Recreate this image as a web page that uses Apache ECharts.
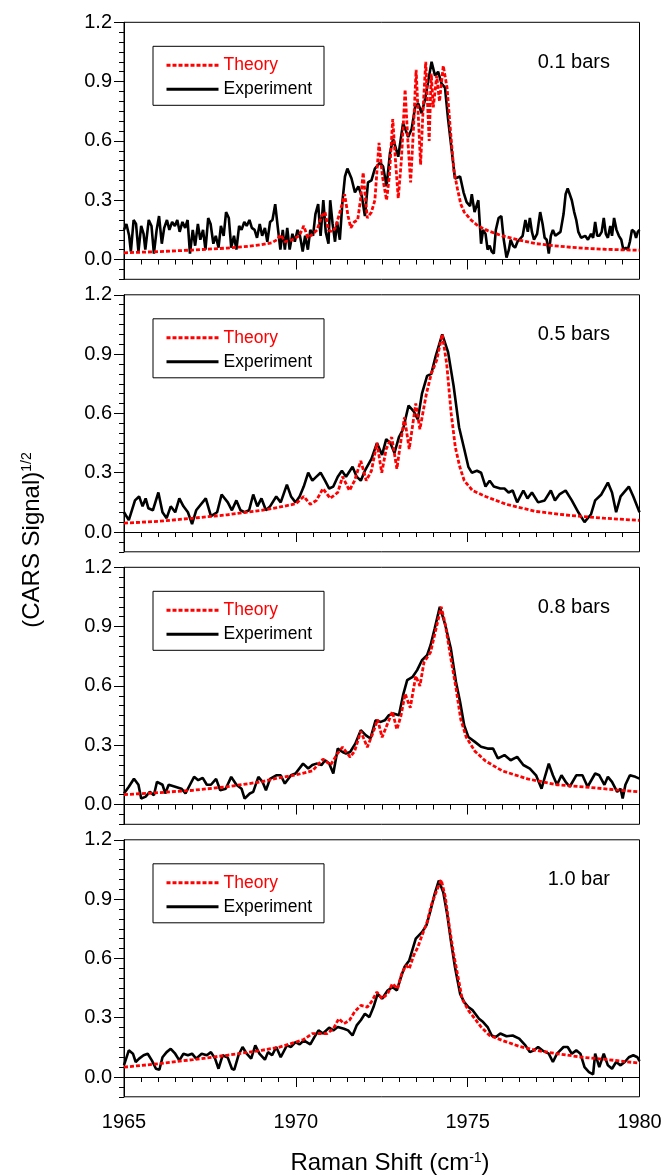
<!DOCTYPE html>
<html>
<head>
<meta charset="utf-8">
<title>CARS spectra</title>
<script src="https://cdn.jsdelivr.net/npm/echarts@6/dist/echarts.min.js"></script>
<style>
  html, body { margin: 0; padding: 0; background: #fff; }
  #main { width: 663px; height: 1176px; }
</style>
</head>
<body>
<div id="main"></div>
<script>
// panel labels, tick labels
const pressureLabels = ['0.1 bars', '0.5 bars', '0.8 bars', '1.0 bar'];
const yTickValues = [0, 0.3, 0.6, 0.9, 1.2];
const legendNames = ['Theory', 'Experiment'];

// [Raman shift (cm-1), (CARS signal)^1/2]
const theory01 = [[1965,0.034],[1966,0.04],[1967,0.048],[1968,0.058],[1968.5,0.065],[1969,0.075],[1969.3,0.085],[1969.45,0.1],[1969.56,0.126],[1969.68,0.09],[1969.9,0.1],[1970,0.11],[1970.1,0.12],[1970.23,0.17],[1970.35,0.11],[1970.5,0.13],[1970.62,0.15],[1970.75,0.22],[1970.85,0.24],[1970.95,0.15],[1971.05,0.14],[1971.15,0.16],[1971.3,0.25],[1971.42,0.33],[1971.52,0.22],[1971.6,0.16],[1971.7,0.19],[1971.8,0.2],[1971.88,0.3],[1971.96,0.44],[1972.03,0.3],[1972.08,0.21],[1972.2,0.24],[1972.3,0.3],[1972.42,0.59],[1972.52,0.42],[1972.64,0.3],[1972.72,0.42],[1972.82,0.71],[1972.9,0.5],[1972.98,0.31],[1973.07,0.5],[1973.18,0.86],[1973.26,0.6],[1973.34,0.39],[1973.42,0.65],[1973.5,0.96],[1973.57,0.7],[1973.63,0.48],[1973.7,0.75],[1973.78,1.0],[1973.83,0.8],[1973.88,0.6],[1973.94,0.94],[1974.0,0.77],[1974.1,0.93],[1974.18,0.8],[1974.29,0.98],[1974.4,0.87],[1974.5,0.65],[1974.6,0.45],[1974.7,0.36],[1974.8,0.28],[1974.9,0.24],[1975.1,0.2],[1975.3,0.17],[1975.6,0.145],[1976,0.12],[1976.5,0.098],[1977,0.08],[1977.5,0.07],[1978,0.062],[1978.5,0.056],[1979,0.052],[1979.5,0.049],[1980,0.047]];
const experiment01 = [[1965,0.15],[1965.07,0.18],[1965.15,0.12],[1965.2,0.04],[1965.28,0.2],[1965.35,0.18],[1965.42,0.04],[1965.5,0.17],[1965.57,0.13],[1965.62,0.05],[1965.72,0.2],[1965.8,0.17],[1965.87,0.03],[1965.95,0.15],[1966.02,0.22],[1966.1,0.08],[1966.17,0.16],[1966.25,0.2],[1966.32,0.15],[1966.4,0.19],[1966.48,0.17],[1966.55,0.2],[1966.62,0.14],[1966.7,0.19],[1966.78,0.16],[1966.85,0.2],[1966.92,0.03],[1967,0.15],[1967.07,0.07],[1967.15,0.18],[1967.22,0.1],[1967.3,0.15],[1967.37,0.05],[1967.45,0.21],[1967.52,0.18],[1967.6,0.08],[1967.67,0.12],[1967.75,0.06],[1967.82,0.17],[1967.9,0.12],[1967.97,0.24],[1968.05,0.21],[1968.12,0.06],[1968.2,0.12],[1968.27,0.05],[1968.35,0.17],[1968.42,0.15],[1968.5,0.19],[1968.57,0.17],[1968.65,0.2],[1968.72,0.16],[1968.8,0.15],[1968.87,0.11],[1968.95,0.18],[1969.02,0.12],[1969.1,0.16],[1969.17,0.09],[1969.25,0.19],[1969.32,0.2],[1969.4,0.28],[1969.47,0.17],[1969.55,0.05],[1969.62,0.15],[1969.68,0.05],[1969.75,0.16],[1969.82,0.05],[1969.9,0.13],[1969.97,0.09],[1970.05,0.15],[1970.12,0.12],[1970.2,0.04],[1970.27,0.12],[1970.35,0.05],[1970.42,0.15],[1970.5,0.12],[1970.57,0.23],[1970.65,0.28],[1970.72,0.12],[1970.8,0.3],[1970.87,0.14],[1970.95,0.08],[1971,0.3],[1971.07,0.18],[1971.14,0.09],[1971.2,0.19],[1971.28,0.1],[1971.36,0.3],[1971.43,0.42],[1971.5,0.46],[1971.62,0.41],[1971.72,0.34],[1971.82,0.37],[1971.92,0.32],[1972.01,0.22],[1972.1,0.39],[1972.2,0.4],[1972.3,0.46],[1972.45,0.49],[1972.54,0.47],[1972.64,0.37],[1972.74,0.54],[1972.83,0.61],[1972.98,0.52],[1973.12,0.69],[1973.27,0.62],[1973.37,0.66],[1973.47,0.77],[1973.56,0.79],[1973.66,0.74],[1973.76,0.81],[1973.85,0.9],[1973.95,1.0],[1974.05,0.93],[1974.14,0.95],[1974.24,0.89],[1974.34,0.87],[1974.43,0.71],[1974.53,0.56],[1974.63,0.41],[1974.78,0.42],[1974.88,0.34],[1974.97,0.29],[1975.07,0.27],[1975.12,0.33],[1975.2,0.24],[1975.31,0.3],[1975.39,0.08],[1975.45,0.15],[1975.52,0.13],[1975.58,0.05],[1975.64,0.07],[1975.7,0.04],[1975.76,0.03],[1975.82,0.15],[1975.9,0.21],[1975.98,0.22],[1976.05,0.1],[1976.13,0.01],[1976.2,0.05],[1976.25,0.1],[1976.32,0.07],[1976.38,0.06],[1976.45,0.09],[1976.5,0.08],[1976.6,0.12],[1976.68,0.2],[1976.75,0.14],[1976.81,0.21],[1976.87,0.14],[1976.93,0.1],[1977.02,0.13],[1977.11,0.24],[1977.18,0.18],[1977.24,0.11],[1977.3,0.1],[1977.36,0.03],[1977.42,0.12],[1977.48,0.15],[1977.55,0.12],[1977.6,0.11],[1977.7,0.14],[1977.79,0.23],[1977.85,0.33],[1977.91,0.36],[1977.97,0.33],[1978.03,0.3],[1978.1,0.24],[1978.16,0.2],[1978.22,0.14],[1978.3,0.11],[1978.34,0.1],[1978.42,0.12],[1978.5,0.1],[1978.59,0.13],[1978.65,0.11],[1978.71,0.19],[1978.77,0.12],[1978.83,0.12],[1978.9,0.14],[1978.96,0.21],[1979.02,0.13],[1979.08,0.11],[1979.15,0.17],[1979.2,0.12],[1979.26,0.21],[1979.33,0.15],[1979.4,0.12],[1979.47,0.1],[1979.53,0.05],[1979.6,0.06],[1979.66,0.05],[1979.72,0.09],[1979.78,0.15],[1979.85,0.14],[1979.9,0.11],[1979.95,0.14],[1980,0.15]];

const theory05 = [[1965,0.045],[1966,0.054],[1967,0.07],[1968,0.087],[1969,0.11],[1969.5,0.125],[1970,0.143],[1970.23,0.18],[1970.42,0.14],[1970.6,0.16],[1970.79,0.22],[1971,0.17],[1971.22,0.2],[1971.36,0.28],[1971.56,0.21],[1971.71,0.26],[1971.89,0.36],[1972.05,0.26],[1972.2,0.31],[1972.36,0.45],[1972.5,0.3],[1972.63,0.42],[1972.79,0.48],[1972.94,0.32],[1973.03,0.43],[1973.16,0.58],[1973.3,0.42],[1973.49,0.65],[1973.61,0.52],[1973.8,0.7],[1973.94,0.8],[1974.1,0.87],[1974.26,1.0],[1974.39,0.85],[1974.52,0.6],[1974.64,0.43],[1974.77,0.33],[1974.9,0.26],[1975.14,0.21],[1975.52,0.18],[1976.13,0.14],[1976.99,0.104],[1977.97,0.084],[1978.96,0.07],[1980,0.059]];
const experiment05 = [[1965,0.1],[1965.14,0.06],[1965.32,0.16],[1965.44,0.18],[1965.54,0.13],[1965.63,0.17],[1965.71,0.12],[1965.84,0.11],[1966,0.2],[1966.12,0.1],[1966.24,0.07],[1966.36,0.13],[1966.49,0.1],[1966.61,0.17],[1966.73,0.13],[1966.86,0.1],[1966.98,0.04],[1967.1,0.11],[1967.38,0.17],[1967.53,0.08],[1967.71,0.1],[1967.84,0.19],[1968.02,0.15],[1968.14,0.11],[1968.27,0.16],[1968.39,0.11],[1968.51,0.1],[1968.64,0.11],[1968.76,0.19],[1968.88,0.13],[1969,0.17],[1969.13,0.11],[1969.25,0.13],[1969.43,0.18],[1969.56,0.15],[1969.74,0.24],[1969.86,0.18],[1969.99,0.15],[1970.11,0.18],[1970.23,0.23],[1970.36,0.3],[1970.48,0.26],[1970.6,0.28],[1970.72,0.3],[1970.85,0.26],[1970.97,0.22],[1971.09,0.23],[1971.22,0.28],[1971.34,0.31],[1971.46,0.28],[1971.65,0.33],[1971.77,0.28],[1971.89,0.26],[1972.01,0.31],[1972.2,0.37],[1972.36,0.45],[1972.51,0.39],[1972.63,0.47],[1972.75,0.45],[1972.87,0.4],[1973,0.48],[1973.12,0.52],[1973.28,0.64],[1973.43,0.61],[1973.55,0.57],[1973.67,0.7],[1973.82,0.79],[1973.94,0.8],[1974.07,0.89],[1974.26,1.0],[1974.43,0.91],[1974.59,0.74],[1974.75,0.53],[1974.9,0.42],[1975.02,0.33],[1975.12,0.3],[1975.27,0.31],[1975.39,0.3],[1975.52,0.23],[1975.64,0.26],[1975.76,0.23],[1975.95,0.22],[1976.07,0.22],[1976.19,0.2],[1976.31,0.21],[1976.44,0.15],[1976.62,0.21],[1976.74,0.17],[1976.87,0.2],[1977.05,0.15],[1977.24,0.16],[1977.42,0.21],[1977.54,0.16],[1977.67,0.19],[1977.85,0.21],[1978.03,0.16],[1978.22,0.1],[1978.4,0.05],[1978.59,0.09],[1978.71,0.16],[1978.89,0.19],[1979.08,0.25],[1979.2,0.2],[1979.32,0.1],[1979.45,0.18],[1979.69,0.23],[1979.82,0.18],[1980,0.1]];

const theory08 = [[1965,0.05],[1966,0.06],[1967,0.072],[1968,0.09],[1969,0.115],[1969.5,0.135],[1970,0.15],[1970.48,0.17],[1970.79,0.23],[1971.01,0.2],[1971.22,0.26],[1971.36,0.29],[1971.58,0.24],[1971.71,0.27],[1971.89,0.37],[1972.08,0.29],[1972.26,0.37],[1972.38,0.43],[1972.51,0.34],[1972.67,0.41],[1972.81,0.47],[1972.94,0.38],[1973.06,0.45],[1973.18,0.56],[1973.33,0.49],[1973.49,0.65],[1973.61,0.6],[1973.73,0.72],[1973.92,0.77],[1974.04,0.86],[1974.23,1.0],[1974.35,0.91],[1974.51,0.74],[1974.66,0.59],[1974.8,0.43],[1974.96,0.34],[1975.21,0.27],[1975.52,0.22],[1976.01,0.17],[1976.74,0.13],[1977.6,0.1],[1978.59,0.086],[1979.32,0.074],[1980,0.064]];
const experiment08 = [[1965,0.056],[1965.14,0.09],[1965.29,0.13],[1965.42,0.1],[1965.5,0.03],[1965.63,0.04],[1965.75,0.064],[1965.87,0.047],[1965.96,0.115],[1966.12,0.1],[1966.2,0.056],[1966.3,0.1],[1966.49,0.09],[1966.67,0.08],[1966.79,0.056],[1966.92,0.1],[1967.04,0.14],[1967.16,0.123],[1967.29,0.135],[1967.41,0.1],[1967.53,0.1],[1967.68,0.13],[1967.8,0.072],[1967.96,0.08],[1968.12,0.14],[1968.27,0.1],[1968.42,0.08],[1968.51,0.03],[1968.66,0.056],[1968.76,0.064],[1968.91,0.14],[1969.03,0.115],[1969.13,0.072],[1969.25,0.13],[1969.43,0.148],[1969.56,0.148],[1969.68,0.106],[1969.86,0.148],[1969.99,0.157],[1970.21,0.207],[1970.36,0.182],[1970.48,0.2],[1970.6,0.207],[1970.75,0.2],[1970.85,0.224],[1970.97,0.207],[1971.09,0.157],[1971.22,0.283],[1971.36,0.266],[1971.46,0.258],[1971.58,0.266],[1971.73,0.308],[1971.89,0.376],[1972.04,0.35],[1972.17,0.334],[1972.32,0.426],[1972.47,0.418],[1972.59,0.426],[1972.71,0.452],[1972.84,0.46],[1973,0.452],[1973.12,0.553],[1973.24,0.629],[1973.4,0.646],[1973.53,0.68],[1973.67,0.73],[1973.82,0.755],[1973.92,0.806],[1974.04,0.89],[1974.19,1.0],[1974.35,0.907],[1974.51,0.789],[1974.66,0.62],[1974.78,0.519],[1974.9,0.4],[1975.02,0.342],[1975.21,0.317],[1975.39,0.292],[1975.58,0.283],[1975.74,0.283],[1975.88,0.233],[1976.07,0.25],[1976.25,0.224],[1976.44,0.241],[1976.62,0.2],[1976.81,0.182],[1976.99,0.148],[1977.15,0.08],[1977.26,0.148],[1977.36,0.207],[1977.48,0.148],[1977.6,0.1],[1977.73,0.148],[1977.85,0.115],[1977.97,0.09],[1978.16,0.148],[1978.34,0.148],[1978.49,0.09],[1978.71,0.157],[1978.83,0.148],[1978.98,0.1],[1979.08,0.14],[1979.2,0.115],[1979.35,0.064],[1979.45,0.08],[1979.51,0.03],[1979.59,0.1],[1979.72,0.148],[1979.88,0.14],[1980,0.131]];

const theory10 = [[1965,0.05],[1966,0.067],[1967,0.088],[1968,0.11],[1969,0.135],[1969.5,0.15],[1970,0.177],[1970.23,0.19],[1970.48,0.22],[1970.72,0.22],[1970.91,0.22],[1971.09,0.244],[1971.25,0.295],[1971.4,0.27],[1971.56,0.287],[1971.71,0.33],[1971.89,0.362],[1972.08,0.354],[1972.2,0.38],[1972.36,0.43],[1972.51,0.396],[1972.67,0.421],[1972.81,0.472],[1972.96,0.447],[1973.08,0.522],[1973.21,0.565],[1973.3,0.548],[1973.43,0.615],[1973.55,0.657],[1973.67,0.716],[1973.82,0.784],[1973.94,0.868],[1974.1,0.944],[1974.23,0.998],[1974.35,0.91],[1974.47,0.758],[1974.59,0.624],[1974.72,0.506],[1974.84,0.396],[1975.02,0.337],[1975.21,0.295],[1975.39,0.253],[1975.64,0.21],[1976.01,0.185],[1976.5,0.155],[1976.99,0.135],[1977.6,0.118],[1978.34,0.1],[1979.08,0.088],[1980,0.07]];
const experiment10 = [[1965,0.06],[1965.14,0.135],[1965.26,0.118],[1965.34,0.076],[1965.44,0.093],[1965.57,0.11],[1965.69,0.118],[1965.81,0.084],[1965.93,0.042],[1966.03,0.037],[1966.12,0.1],[1966.24,0.126],[1966.36,0.143],[1966.49,0.118],[1966.61,0.084],[1966.73,0.118],[1966.86,0.11],[1966.98,0.118],[1967.1,0.093],[1967.26,0.118],[1967.41,0.11],[1967.53,0.126],[1967.65,0.093],[1967.75,0.042],[1967.87,0.11],[1968.02,0.098],[1968.14,0.042],[1968.21,0.037],[1968.33,0.11],[1968.45,0.152],[1968.57,0.118],[1968.7,0.093],[1968.82,0.16],[1968.94,0.118],[1969.1,0.088],[1969.19,0.126],[1969.31,0.11],[1969.43,0.152],[1969.56,0.1],[1969.74,0.16],[1969.86,0.152],[1969.99,0.177],[1970.11,0.165],[1970.23,0.185],[1970.42,0.165],[1970.54,0.202],[1970.66,0.236],[1970.79,0.22],[1970.97,0.25],[1971.09,0.236],[1971.22,0.253],[1971.4,0.244],[1971.52,0.236],[1971.65,0.21],[1971.77,0.261],[1971.89,0.287],[1972.01,0.32],[1972.14,0.303],[1972.26,0.354],[1972.38,0.421],[1972.51,0.396],[1972.67,0.438],[1972.81,0.455],[1972.94,0.438],[1973.06,0.506],[1973.16,0.556],[1973.3,0.59],[1973.49,0.7],[1973.67,0.733],[1973.8,0.767],[1973.92,0.843],[1974.04,0.927],[1974.16,0.994],[1974.29,0.935],[1974.41,0.817],[1974.51,0.691],[1974.63,0.556],[1974.78,0.421],[1974.9,0.379],[1975.02,0.354],[1975.15,0.337],[1975.33,0.295],[1975.45,0.278],[1975.58,0.253],[1975.7,0.21],[1975.82,0.202],[1975.95,0.22],[1976.13,0.206],[1976.31,0.21],[1976.5,0.194],[1976.68,0.16],[1976.81,0.126],[1976.93,0.135],[1977.05,0.152],[1977.17,0.135],[1977.36,0.118],[1977.48,0.076],[1977.6,0.118],[1977.79,0.152],[1977.91,0.152],[1978.03,0.118],[1978.16,0.135],[1978.28,0.118],[1978.4,0.05],[1978.53,0.025],[1978.65,0.013],[1978.71,0.118],[1978.83,0.05],[1978.96,0.118],[1979.08,0.059],[1979.2,0.042],[1979.32,0.076],[1979.45,0.059],[1979.57,0.076],[1979.69,0.1],[1979.82,0.11],[1979.94,0.1],[1980,0.08]];

const theorySets = [theory01, theory05, theory08, theory10];
const experimentSets = [experiment01, experiment05, experiment08, experiment10];

const FONT = 'Liberation Sans, Arial, sans-serif';
const panelTop = 22.3;
const panelStep = 272.5;
const panelHeight = 257;

const grids = [], xAxes = [], yAxes = [], series = [], legends = [], titles = [];

pressureLabels.forEach((label, i) => {
    const top = panelTop + i * panelStep;
    const last = i === pressureLabels.length - 1;
    grids.push({
        left: 124, right: 23.5, top: top, height: panelHeight,
        outerBoundsMode: 'none',
        show: true, borderColor: '#000', borderWidth: 1, backgroundColor: 'transparent'
    });
    xAxes.push({
        type: 'value', gridIndex: i, min: 1965, max: 1980, interval: 5,
        axisLine: { lineStyle: { color: '#000', width: 1 } },
        axisTick: { length: 10, lineStyle: { color: '#000' } },
        minorTick: { show: true, splitNumber: 10, length: 5, lineStyle: { color: '#000' } },
        splitLine: { show: false },
        axisLabel: {
            show: last, color: '#000', fontSize: 20, fontFamily: FONT, margin: 16,
            formatter: v => String(v)
        }
    });
    // minor ticks every 0.05
    yAxes.push({
        type: 'value', gridIndex: i, min: -0.1, max: 1.2, interval: 0.05,
        axisLine: { show: true, lineStyle: { color: '#000', width: 1 } },
        axisTick: { length: 5, lineStyle: { color: '#000' } },
        splitLine: { show: false },
        axisLabel: { show: false }
    });
    // major ticks + labels
    yAxes.push({
        type: 'value', gridIndex: i, min: -0.1, max: 1.2, position: 'left',
        axisLine: { show: false },
        axisTick: { show: true, length: 10, customValues: yTickValues, lineStyle: { color: '#000' } },
        splitLine: { show: false },
        axisLabel: {
            show: true, customValues: yTickValues, color: '#000', fontSize: 20,
            fontFamily: FONT, margin: 12, formatter: v => v.toFixed(1)
        }
    });
    series.push({
        name: 'Experiment', type: 'line', xAxisIndex: i, yAxisIndex: i * 2,
        data: experimentSets[i], symbol: 'none', animation: false,
        lineStyle: { color: '#000', width: 2.6 }, itemStyle: { color: '#000' }, z: 3
    });
    series.push({
        name: 'Theory', type: 'line', xAxisIndex: i, yAxisIndex: i * 2,
        data: theorySets[i], symbol: 'none', animation: false,
        lineStyle: { color: '#ff0000', width: 2.8, type: [4, 2] }, itemStyle: { color: '#ff0000' }, z: 4
    });
    legends.push({
        orient: 'vertical', left: 153, top: top + 24,
        borderColor: '#000', borderWidth: 1, padding: [10, 12, 7, 12],
        itemWidth: 52, itemHeight: 14, itemGap: 6,
        selectedMode: false,
        itemStyle: { color: 'transparent', borderWidth: 0, opacity: 0 },
        lineStyle: { width: 3 },
        textStyle: { fontSize: 17.5, fontFamily: FONT, color: '#000' },
        data: [
            { name: legendNames[0], textStyle: { color: '#ff0000' } },
            { name: legendNames[1], textStyle: { color: '#000' } }
        ]
    });
    titles.push({
        text: label, right: 53, top: top + 30, padding: 0,
        textStyle: { fontSize: 20, fontWeight: 'normal', fontFamily: FONT, color: '#000' }
    });
});

const chart = echarts.init(document.getElementById('main'), null, { renderer: 'canvas' });
chart.setOption({
    animation: false,
    backgroundColor: '#fff',
    title: titles,
    legend: legends,
    grid: grids,
    xAxis: xAxes,
    yAxis: yAxes,
    series: series,
    graphic: [
        {
            type: 'text', x: 32, y: 540, rotation: Math.PI / 2,
            style: {
                text: '(CARS Signal){sup|1/2}',
                fill: '#000', font: '24px ' + FONT,
                align: 'center', verticalAlign: 'middle',
                rich: { sup: { fontSize: 14, fontFamily: FONT, verticalAlign: 'top', fill: '#000' } }
            }
        },
        {
            type: 'text', x: 390, y: 1163,
            style: {
                text: 'Raman Shift (cm{sup|-1})',
                fill: '#000', font: '24px ' + FONT,
                align: 'center', verticalAlign: 'middle',
                rich: { sup: { fontSize: 14, fontFamily: FONT, verticalAlign: 'top', fill: '#000' } }
            }
        }
    ]
});
</script>
</body>
</html>
